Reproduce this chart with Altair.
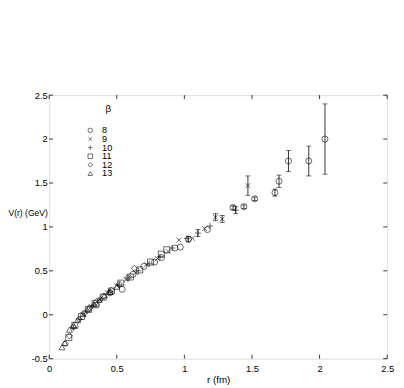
import altair as alt
import pandas as pd

# ---- data ----
beta_levels = ["8", "9", "10", "11", "12", "13"]

r8 = [0.35, 0.45, 0.54, 0.62, 0.70, 0.78, 0.83, 0.93, 0.97, 1.03, 1.17, 1.36, 1.44, 1.52, 1.67, 1.70, 1.77, 1.92, 2.04]
v8 = [0.11, 0.25, 0.29, 0.46, 0.55, 0.60, 0.65, 0.76, 0.77, 0.86, 0.97, 1.22, 1.23, 1.32, 1.39, 1.52, 1.75, 1.75, 2.00]
e8 = [0.0, 0.0, 0.0, 0.0, 0.0, 0.0, 0.0, 0.0, 0.0, 0.03, 0.0, 0.02, 0.02, 0.02, 0.04, 0.07, 0.12, 0.17, 0.40]

r9 = [0.25, 0.31, 0.37, 0.43, 0.50, 0.57, 0.64, 0.72, 0.80, 0.88, 0.96, 1.06, 1.15, 1.23, 1.28, 1.47]
v9 = [0.00, 0.09, 0.17, 0.25, 0.33, 0.40, 0.48, 0.57, 0.64, 0.72, 0.85, 0.87, 0.98, 1.11, 1.09, 1.47]
e9 = [0.0, 0.0, 0.0, 0.0, 0.0, 0.0, 0.0, 0.0, 0.0, 0.0, 0.0, 0.0, 0.0, 0.04, 0.04, 0.11]

r10 = [0.18, 0.23, 0.28, 0.33, 0.39, 0.45, 0.52, 0.59, 0.66, 0.74, 0.82, 0.91, 1.02, 1.10, 1.19, 1.38]
v10 = [-0.15, -0.05, 0.04, 0.11, 0.18, 0.26, 0.34, 0.42, 0.50, 0.58, 0.66, 0.76, 0.87, 0.93, 1.01, 1.19]
e10 = [0.0, 0.0, 0.0, 0.0, 0.0, 0.0, 0.0, 0.0, 0.0, 0.0, 0.0, 0.0, 0.0, 0.04, 0.0, 0.04]

r11 = [0.145, 0.19, 0.24, 0.29, 0.34, 0.40, 0.46, 0.53, 0.60, 0.67, 0.75, 0.83, 0.87]
v11 = [-0.26, -0.12, -0.02, 0.06, 0.13, 0.20, 0.27, 0.36, 0.43, 0.51, 0.60, 0.69, 0.74]

r12 = [0.12, 0.15, 0.18, 0.22, 0.26, 0.30, 0.35, 0.40, 0.46, 0.52, 0.58, 0.63]
v12 = [-0.33, -0.24, -0.14, -0.05, 0.02, 0.08, 0.15, 0.21, 0.28, 0.35, 0.42, 0.53]

r13 = [0.095, 0.115, 0.15, 0.18, 0.21, 0.25, 0.29, 0.33, 0.37, 0.41, 0.45, 0.50]
v13 = [-0.37, -0.32, -0.17, -0.12, -0.06, 0.01, 0.07, 0.12, 0.17, 0.22, 0.26, 0.32]

x_ticks = [0, 0.5, 1, 1.5, 2, 2.5]
y_ticks = [-0.5, 0, 0.5, 1, 1.5, 2, 2.5]

# ---- tables ----
rows = []
for b, rs, vs, es in [("8", r8, v8, e8), ("9", r9, v9, e9), ("10", r10, v10, e10),
                      ("11", r11, v11, [0.0] * len(r11)), ("12", r12, v12, [0.0] * len(r12)),
                      ("13", r13, v13, [0.0] * len(r13))]:
    for r, v, e in zip(rs, vs, es):
        rows.append({"r": r, "V": v, "err": e, "lo": v - e, "hi": v + e, "beta": b})
df = pd.DataFrame(rows)
err_df = df[df["err"] > 0]
leg_df = pd.DataFrame({"beta": beta_levels})

W, H = 345, 269
FONT = "Liberation Sans"
xs = alt.Scale(domain=[0, 2.5], nice=False, zero=False)
ys = alt.Scale(domain=[-0.5, 2.5], nice=False, zero=False)
leg_scale = alt.Scale(type="point", domain=beta_levels, range=[36, 80], padding=0)

x_path = "M-0.8,-0.8L0.8,0.8M-0.8,0.8L0.8,-0.8"
plus_path = "M-1,0L1,0M0,-1L0,1"
shape_range = ["circle", x_path, plus_path, "square", "diamond", "triangle-up"]
shape_scale = alt.Scale(domain=beta_levels, range=shape_range)

points = alt.Chart(df).mark_point(filled=False, color="black", strokeWidth=0.85, size=38).encode(
    x=alt.X("r:Q", scale=xs, title="r (fm)",
            axis=alt.Axis(values=x_ticks, ticks=False, tickSize=0, domain=False, grid=False,
                          labelExpr="'' + datum.value",
                          labelPadding=5, titlePadding=2, labelFont=FONT, titleFont=FONT,
                          labelFontSize=9.5, titleFontSize=10, titleFontWeight="normal",
                          labelColor="black", titleColor="black", labelFlush=False)),
    y=alt.Y("V:Q", scale=ys, title="V(r) (GeV)",
            axis=alt.Axis(values=y_ticks, ticks=False, tickSize=0, domain=False, grid=False,
                          labelExpr="'' + datum.value",
                          labelPadding=2, labelFont=FONT, titleFont=FONT,
                          labelFontSize=9.5, titleFontSize=8.7, titleFontWeight="normal",
                          labelColor="black", titleColor="black", labelFlush=False,
                          titleAngle=0, titleAlign="left", titleBaseline="middle",
                          titleX=-42, titleY=120)),
    shape=alt.Shape("beta:N", scale=shape_scale, legend=None),
)

bars = alt.Chart(err_df).mark_rule(color="black", strokeWidth=0.8).encode(
    x=alt.X("r:Q", scale=xs), y=alt.Y("lo:Q", scale=ys, axis=None), y2="hi:Q")
cap_lo = alt.Chart(err_df).mark_tick(color="black", orient="horizontal", size=5, thickness=0.8).encode(
    x=alt.X("r:Q", scale=xs), y=alt.Y("lo:Q", scale=ys, axis=None))
cap_hi = alt.Chart(err_df).mark_tick(color="black", orient="horizontal", size=5, thickness=0.8).encode(
    x=alt.X("r:Q", scale=xs), y=alt.Y("hi:Q", scale=ys, axis=None))

xt = pd.DataFrame({"t": x_ticks})
yt = pd.DataFrame({"t": y_ticks})
tick_style = dict(color="black", strokeWidth=0.8)
tb = alt.Chart(xt).mark_rule(**tick_style).encode(x=alt.X("t:Q", scale=xs), y=alt.value(H), y2=alt.value(H - 4))
tt = alt.Chart(xt).mark_rule(**tick_style).encode(x=alt.X("t:Q", scale=xs), y=alt.value(0), y2=alt.value(4))
tl = alt.Chart(yt).mark_rule(**tick_style).encode(y=alt.Y("t:Q", scale=ys, axis=None), x=alt.value(0), x2=alt.value(4))
tr = alt.Chart(yt).mark_rule(**tick_style).encode(y=alt.Y("t:Q", scale=ys, axis=None), x=alt.value(W), x2=alt.value(W - 4))

# legend drawn inside the plot
leg_sym = alt.Chart(leg_df).mark_point(filled=False, color="black", strokeWidth=0.8, size=22).encode(
    x=alt.value(42), y=alt.Y("beta:N", scale=leg_scale, axis=None),
    shape=alt.Shape("beta:N", scale=shape_scale, legend=None))
leg_txt = alt.Chart(leg_df).mark_text(font=FONT, fontSize=9.3, color="black", align="left",
                                      baseline="middle").encode(
    x=alt.value(54), y=alt.Y("beta:N", scale=leg_scale, axis=None), text="beta:N")
beta_title = alt.Chart(pd.DataFrame({"s": ["β"]})).mark_text(
    font=FONT, fontSize=10, color="black", align="center", baseline="middle").encode(
    text="s:N", x=alt.value(60.5), y=alt.value(14))

chart = alt.layer(bars, cap_lo, cap_hi, points, tb, tt, tl, tr, leg_sym, leg_txt, beta_title).resolve_scale(
    y="independent"
).properties(
    width=W, height=H,
    autosize=alt.AutoSizeParams(type="none"),
    padding={"left": 42, "top": 85, "right": 9, "bottom": 26},
).configure_view(stroke="black", strokeWidth=1).configure(background="white")

chart.save("out.html", embed_options={"renderer": "svg", "actions": False})
